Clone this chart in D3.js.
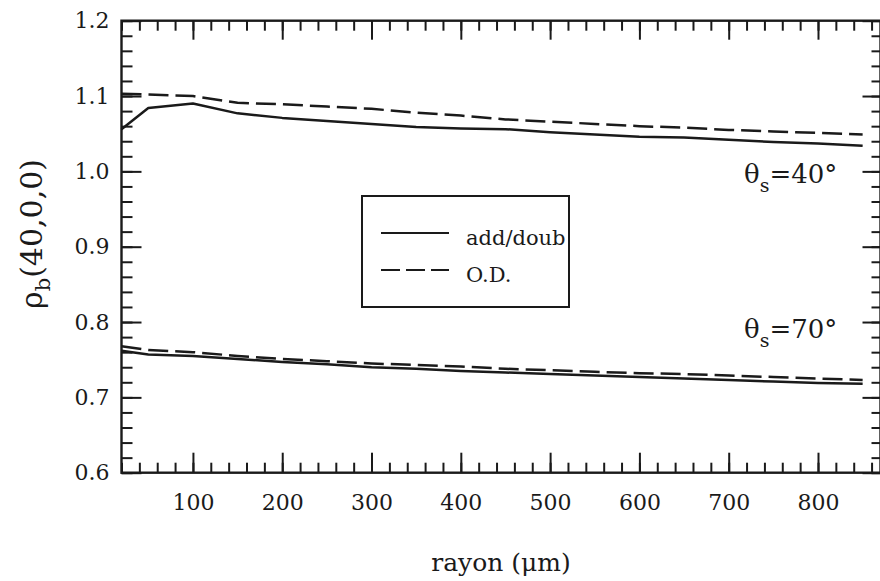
<!DOCTYPE html>
<html><head><meta charset="utf-8">
<script src="https://cdn.jsdelivr.net/npm/d3@7/dist/d3.min.js"></script>
<style>
html,body{margin:0;padding:0;background:#fff;}
svg{display:block;}
text{font-family:"DejaVu Serif","Liberation Serif",serif;fill:#1a1a1a;}
</style></head>
<body><svg id="c" width="880" height="581"></svg>
<script>
// ---- data ----
const radius = [20, 50, 100, 150, 200, 250, 300, 350, 400, 450, 500, 550, 600, 650, 700, 750, 800, 850];
const addDoub40 = [1.056, 1.084, 1.090, 1.077, 1.071, 1.067, 1.063, 1.059, 1.057, 1.056, 1.052, 1.049, 1.046, 1.045, 1.042, 1.039, 1.037, 1.034];
const od40      = [1.103, 1.102, 1.100, 1.091, 1.089, 1.086, 1.083, 1.078, 1.074, 1.069, 1.066, 1.063, 1.060, 1.058, 1.055, 1.053, 1.051, 1.049];
const addDoub70 = [0.762, 0.757, 0.755, 0.751, 0.747, 0.744, 0.740, 0.738, 0.735, 0.733, 0.731, 0.729, 0.727, 0.725, 0.723, 0.721, 0.719, 0.718];
const od70      = [0.768, 0.763, 0.760, 0.755, 0.751, 0.748, 0.745, 0.743, 0.741, 0.738, 0.736, 0.734, 0.732, 0.731, 0.729, 0.727, 0.725, 0.723];
const xMajorTicks = [100, 200, 300, 400, 500, 600, 700, 800];
const xMinorTicks = d3.range(20, 870, 20);
const yMajorTicks = [0.6, 0.7, 0.8, 0.9, 1.0, 1.1, 1.2];
const yMinorTicks = d3.range(30, 61, 1).map(v => v / 50);
const legendLabels = ["add/doub", "O.D."];
const curveLabels = [{angle: "40°", y: 0.9845}, {angle: "70°", y: 0.779}];

// ---- layout ----
const L = 121.5, R = 880.5, T = 20.7, B = 472.7;
const svg = d3.select("#c");
const x = d3.scaleLinear().domain([20, 870]).range([L, R]);
const y = d3.scaleLinear().domain([0.6, 1.2]).range([B, T]);
const ink = "#1a1a1a";

function styleAxis(g, w) {
  g.select(".domain").remove();
  g.attr("font-family", null).attr("font-size", null);
  g.selectAll("line").attr("stroke", ink).attr("stroke-width", w);
}
// minor ticks
svg.append("g").attr("transform", `translate(0,${B})`)
  .call(d3.axisBottom(x).tickValues(xMinorTicks).tickSizeInner(-10).tickSizeOuter(0).tickFormat(""))
  .call(g => styleAxis(g, 2));
svg.append("g").attr("transform", `translate(0,${T})`)
  .call(d3.axisTop(x).tickValues(xMinorTicks).tickSizeInner(-10).tickSizeOuter(0).tickFormat(""))
  .call(g => styleAxis(g, 2));
svg.append("g").attr("transform", `translate(${L},0)`)
  .call(d3.axisLeft(y).tickValues(yMinorTicks).tickSizeInner(-11).tickSizeOuter(0).tickFormat(""))
  .call(g => styleAxis(g, 2));
svg.append("g").attr("transform", `translate(${R},0)`)
  .call(d3.axisRight(y).tickValues(yMinorTicks).tickSizeInner(-9).tickSizeOuter(0).tickFormat(""))
  .call(g => styleAxis(g, 2));
// major ticks
const xb = svg.append("g").attr("transform", `translate(0,${B})`)
  .call(d3.axisBottom(x).tickValues(xMajorTicks).tickSizeInner(-20).tickSizeOuter(0).tickPadding(22).tickFormat(d3.format("d")))
  .call(g => styleAxis(g, 2));
xb.selectAll("text").style("font-size", "22px").attr("fill", ink);
svg.append("g").attr("transform", `translate(0,${T})`)
  .call(d3.axisTop(x).tickValues(xMajorTicks).tickSizeInner(-19).tickSizeOuter(0).tickFormat(""))
  .call(g => styleAxis(g, 2));
const yl = svg.append("g").attr("transform", `translate(${L},0)`)
  .call(d3.axisLeft(y).tickValues(yMajorTicks).tickSizeInner(-20).tickSizeOuter(0).tickPadding(12).tickFormat(d3.format(".1f")))
  .call(g => styleAxis(g, 2));
yl.selectAll("text").style("font-size", "22px").attr("fill", ink);
svg.append("g").attr("transform", `translate(${R},0)`)
  .call(d3.axisRight(y).tickValues(yMajorTicks).tickSizeInner(-18).tickSizeOuter(0).tickFormat(""))
  .call(g => styleAxis(g, 2));

// frame
svg.append("rect").attr("x", L).attr("y", T).attr("width", R - L).attr("height", B - T)
  .attr("fill", "none").attr("stroke", ink).attr("stroke-width", 2.4);

// curves
const line = d3.line().x((d, i) => x(radius[i])).y(d => y(d));
const series = [
  {v: addDoub40, dash: null}, {v: od40, dash: "20,7"},
  {v: addDoub70, dash: null}, {v: od70, dash: "20,7"}
];
series.forEach(s => {
  svg.append("path").attr("d", line(s.v)).attr("fill", "none").attr("stroke", ink)
    .attr("stroke-width", 2.5).attr("stroke-linejoin", "round")
    .attr("stroke-dasharray", s.dash);
});

// curve labels
curveLabels.forEach(c => {
  const t = svg.append("text").attr("x", 744).attr("y", y(c.y)).attr("font-size", 26);
  t.append("tspan").text("θ");
  t.append("tspan").attr("font-size", 19).attr("dy", 9).text("s");
  t.append("tspan").attr("dy", -9).text("=" + c.angle);
});

// legend
svg.append("rect").attr("x", 362).attr("y", 196).attr("width", 207).attr("height", 111)
  .attr("fill", "#fff").attr("stroke", ink).attr("stroke-width", 2);
const legendY = [233, 270];
legendLabels.forEach((lab, i) => {
  svg.append("line").attr("x1", 381).attr("x2", 449).attr("y1", legendY[i]).attr("y2", legendY[i])
    .attr("stroke", ink).attr("stroke-width", 2.2).attr("stroke-dasharray", i === 1 ? "19,6" : null);
  svg.append("text").attr("x", 466).attr("y", legendY[i] + 12).attr("font-size", 21).text(lab);
});

// axis titles
svg.append("text").attr("x", 501).attr("y", 571).attr("text-anchor", "middle").attr("font-size", 25)
  .text("rayon (μm)");
const yt = svg.append("text").attr("transform", "translate(42,234) rotate(-90)")
  .attr("text-anchor", "middle").attr("font-size", 30);
yt.append("tspan").text("ρ");
yt.append("tspan").attr("font-size", 21).attr("dy", 8).text("b");
yt.append("tspan").attr("dy", -8).text("(40,0,0)");
</script></body></html>
